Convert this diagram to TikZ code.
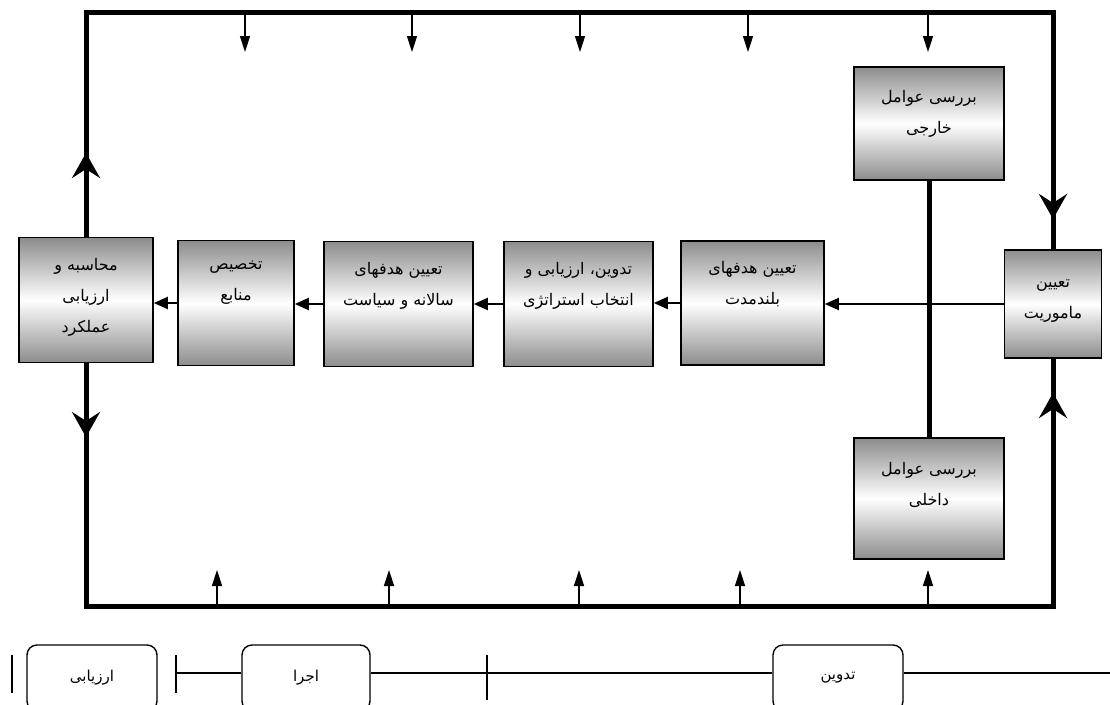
\documentclass[tikz,border=0pt]{standalone}
\usepackage{fontspec}
\usetikzlibrary{arrows.meta}
\newfontfamily\fa[Script=Arabic]{DejaVu Sans}
\TeXXeTstate=1
\newcommand{\rtlline}[1]{\beginR #1\endR}

\begin{document}
\begin{tikzpicture}[x=1pt, y=-1pt,
  factor/.style = {draw, line width=1.6pt, top color=black!45, bottom color=black!45, middle color=white, inner sep=0pt},
  lbl/.style = {font=\fa\fontsize{16}{31}\selectfont, align=center, anchor=north, inner sep=0pt},
  flow/.style = {line width=2pt, -{Triangle[length=14pt,width=12pt]}},
  feed/.style = {line width=1.5pt, -{Triangle[length=16pt,width=10pt]}},
  bold/.style = {line width=5pt},
  bigtip/.style = {bold, -{Stealth[length=25pt,width=28pt,inset=9pt]}},
  phase/.style = {draw, line width=1.4pt, rounded corners=10pt, fill=white, minimum height=66pt, font=\fa\fontsize{15}{17}\selectfont},
  tick/.style = {line width=1.4pt}]
\useasboundingbox (0,0) rectangle (1110,704);
\clip (0,0) rectangle (1110,704);

% boxes
\node[factor, minimum width=134pt, minimum height=125pt] (mah) at (86,300) {};
\node[factor, minimum width=116pt, minimum height=125pt] (tak) at (236,303) {};
\node[factor, minimum width=149pt, minimum height=125pt] (sal) at (398.5,304) {};
\node[factor, minimum width=149pt, minimum height=125pt] (est) at (578.5,304) {};
\node[factor, minimum width=143pt, minimum height=124pt] (bol) at (752.5,303) {};
\node[factor, minimum width=97pt, minimum height=108pt] (mam) at (1053,304) {};
\node[factor, minimum width=150pt, minimum height=113pt] (kha) at (929,123.5) {};
\node[factor, minimum width=150pt, minimum height=121pt] (dak) at (929,498.5) {};

\node[lbl] (mah-t) at ([yshift=-21pt]mah.north) {\rtlline{محاسبه و}\\\rtlline{ارزیابی}\\\rtlline{عملکرد}};
\node[lbl] (tak-t) at ([yshift=-21pt]tak.north) {\rtlline{تخصیص}\\\rtlline{منابع}};
\node[lbl] (sal-t) at ([yshift=-21pt]sal.north) {\rtlline{تعیین هدفهای}\\\rtlline{سالانه و سیاست}};
\node[lbl] (est-t) at ([yshift=-21pt]est.north) {\rtlline{تدوین، ارزیابی و}\\\rtlline{انتخاب استراتژی}};
\node[lbl] (bol-t) at ([yshift=-21pt]bol.north) {\rtlline{تعیین هدفهای}\\\rtlline{بلندمدت}};
\node[lbl] (mam-t) at ([yshift=-30pt]mam.north) {\rtlline{تعیین}\\\rtlline{ماموریت}};
\node[lbl] (kha-t) at ([yshift=-24pt]kha.north) {\rtlline{بررسی عوامل}\\\rtlline{خارجی}};
\node[lbl] (dak-t) at ([yshift=-25pt]dak.north) {\rtlline{بررسی عوامل}\\\rtlline{داخلی}};

% frame
\coordinate (tl) at (86,12);
\coordinate (tr) at (1053,12);
\coordinate (bl) at (86,606);
\coordinate (br) at (1053,606);
\coordinate (upL) at (86,153);
\coordinate (dnL) at (86,437);
\coordinate (dnR) at (1053,219);
\coordinate (upR) at (1053,393);
\draw[bold] (mah.north) -- (tl) -- (tr) -- (mam.north);
\draw[bold] (mah.south) -- (bl) -- (br) -- (mam.south);
\draw[bigtip] (mah.north) -- (upL);
\draw[bigtip] (mah.south) -- (dnL);
\draw[bigtip] (tr) -- (dnR);
\draw[bigtip] (br) -- (upR);
\draw[bold] (kha.south) -- (dak.north);

% main flow
\draw[flow] (mam.west) -- (mam.west -| bol.east);
\draw[flow] (bol.west) -- (bol.west -| est.east);
\draw[flow] (est.west) -- (est.west -| sal.east);
\draw[flow] (sal.west) -- (sal.west -| tak.east);
\draw[flow] (tak.west) -- (tak.west -| mah.east);

% inputs from the frame
\foreach \x [count=\i] in {245,412,580,748,928} {
  \coordinate (in\i) at (\x,52);
  \draw[feed] (\x,12) -- (in\i);
}
\foreach \x [count=\i] in {217,389,579,740,928} {
  \coordinate (up\i) at (\x,570);
  \draw[feed] (\x,606) -- (up\i);
}

% phases
\node[phase, minimum width=130pt] (arz) at (92,678) {\rtlline{ارزیابی}};
\node[phase, minimum width=128pt] (ejr) at (306,678) {\rtlline{اجرا}};
\node[phase, minimum width=130pt] (tad) at (838,678) {\rtlline{تدوین}};
\coordinate (s0) at (12,673);
\coordinate (s1) at (176,673);
\coordinate (s2) at (487,673);
\coordinate (se) at (1110,673);
\draw[tick] ([yshift=18pt]s0) -- ([yshift=-20pt]s0);
\draw[tick] ([yshift=18pt]s1) -- ([yshift=-20pt]s1);
\draw[tick] ([yshift=18pt]s2) -- ([yshift=-27pt]s2);
\draw[tick] (s1) -- (s1 -| ejr.west);
\draw[tick] (s1 -| ejr.east) -- (s1 -| tad.west);
\draw[tick] (s1 -| tad.east) -- (se);
\end{tikzpicture}
\end{document}
